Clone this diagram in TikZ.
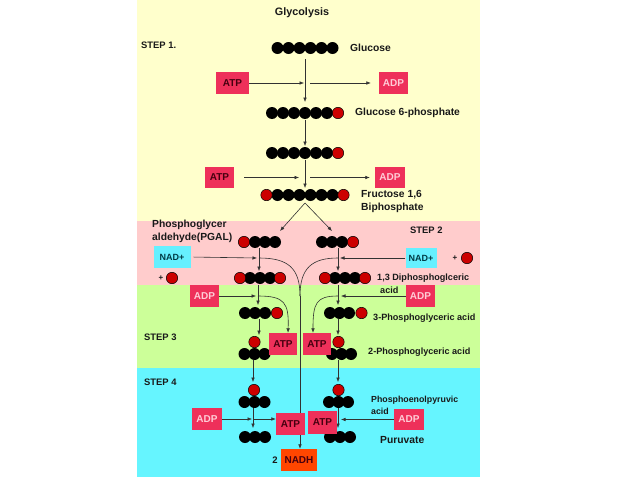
\documentclass[tikz,border=0pt]{standalone}
\usepackage{fontspec}
\setmainfont{Liberation Sans}
\usetikzlibrary{arrows.meta}
\definecolor{bgyellow}{RGB}{255,255,204}
\definecolor{bgpink}{RGB}{255,204,204}
\definecolor{bggreen}{RGB}{204,255,153}
\definecolor{bgcyan}{RGB}{102,245,255}
\definecolor{boxred}{RGB}{238,48,90}
\definecolor{atptxt}{RGB}{70,0,15}
\definecolor{adptxt}{RGB}{255,205,215}
\definecolor{nadcyan}{RGB}{102,240,255}
\definecolor{nadtxt}{RGB}{0,60,70}
\definecolor{nadhorange}{RGB}{255,70,0}
\definecolor{molred}{RGB}{204,0,0}
\definecolor{linec}{RGB}{50,50,50}
\definecolor{txt}{RGB}{25,25,25}
\pgfdeclarelayer{bg}\pgfdeclarelayer{fg}\pgfsetlayers{bg,main,fg}
\newcommand\mblk[2]{\fill[black] (#1,#2) circle[radius=6pt];}
\newcommand\mred[2]{\filldraw[fill=molred,draw=black,line width=0.5pt] (#1,#2) circle[radius=5.7pt];}
\tikzset{
  box/.style={draw=none,inner sep=0pt,minimum height=22pt,font=\fontsize{10}{11}\selectfont\bfseries},
  atpbox/.style={box,fill=boxred,text=atptxt},
  adpbox/.style={box,fill=boxred,text=adptxt},
  nadbox/.style={box,fill=nadcyan,text=nadtxt},
  nadhbox/.style={box,fill=nadhorange,text=atptxt},
  lbl/.style={anchor=west,inner sep=0pt,text=txt,font=\fontsize{10.3}{11}\selectfont\bfseries},
  slbl/.style={anchor=west,inner sep=0pt,text=txt,font=\fontsize{9.1}{10}\selectfont\bfseries},
  steplbl/.style={anchor=west,inner sep=0pt,text=txt,font=\fontsize{9.4}{10}\selectfont\bfseries},
  arr/.style={draw=linec,line width=0.6pt,-{Latex[length=4.5pt,width=3.6pt]}},
  ln/.style={draw=linec,line width=0.6pt},
}
\begin{document}
\begin{tikzpicture}[x=1pt,y=-1pt]
\begin{pgfonlayer}{bg}
\fill[white] (0,0) rectangle (638,479);
\fill[bgyellow] (137,0) rectangle (480,221);
\fill[bgpink] (137,221) rectangle (480,285);
\fill[bggreen] (137,285) rectangle (480,368);
\fill[bgcyan] (137,368) rectangle (480,477);
\end{pgfonlayer}
\useasboundingbox (0,0) rectangle (638,479);

\begin{pgfonlayer}{fg}
% boxes
\node[atpbox,minimum width=33pt] (atp1) at (232.5,83) {ATP};
\node[adpbox,minimum width=29pt] (adp1) at (393.5,83) {ADP};
\node[atpbox,minimum width=29pt,minimum height=21pt] (atp2) at (219.5,177.5) {ATP};
\node[adpbox,minimum width=30pt,minimum height=21pt] (adp2) at (390,177.5) {ADP};
\node[nadbox,minimum width=37pt,font=\fontsize{9}{10}\selectfont\bfseries] (nadl) at (172,257) {NAD+};
\node[nadbox,minimum width=31pt,minimum height=20pt,font=\fontsize{9}{10}\selectfont\bfseries] (nadr) at (421,258) {NAD+};
\node[adpbox,minimum width=29pt] (adp3l) at (204.5,296) {ADP};
\node[adpbox,minimum width=29pt] (adp3r) at (420.5,296) {ADP};
\node[atpbox,minimum width=28pt] (atp3l) at (283,344) {ATP};
\node[atpbox,minimum width=28pt] (atp3r) at (317,344) {ATP};
\node[adpbox,minimum width=30pt] (adp4l) at (207,419) {ADP};
\node[atpbox,minimum width=29pt] (atp4l) at (290.5,424) {ATP};
\node[atpbox,minimum width=29pt,minimum height=23pt] (atp4r) at (322.5,422.5) {ATP};
\node[adpbox,minimum width=30pt,minimum height=21pt] (adp4r) at (409,419.5) {ADP};
\node[nadhbox,minimum width=36pt] (nadh) at (299,460) {NADH};
% labels
\node[inner sep=0pt,text=txt,font=\fontsize{10.8}{12}\selectfont\bfseries] (title) at (302,13) {Glycolysis};
\node[steplbl] (st1) at (141,45) {STEP 1.};
\node[lbl] (lglu) at (350,48) {Glucose};
\node[lbl] (lg6p) at (355,113) {Glucose 6-phosphate};
\node[lbl] (lfru1) at (361,195) {Fructose 1,6};
\node[lbl] (lfru2) at (361,208) {Biphosphate};
\node[lbl] (lpg1) at (152,225) {Phosphoglycer};
\node[lbl] (lpg2) at (152,238) {aldehyde(PGAL)};
\node[steplbl] (st2) at (410,230) {STEP 2};
\node[slbl] (ldp1) at (377,278) {1,3 Diphosphoglceric};
\node[slbl] (ldp2) at (380,290) {acid};
\node[slbl] (l3pg) at (373,318) {3-Phosphoglyceric acid};
\node[steplbl] (st3) at (144,337) {STEP 3};
\node[slbl] (l2pg) at (368,352) {2-Phosphoglyceric acid};
\node[steplbl] (st4) at (144,382) {STEP 4};
\node[slbl,font=\fontsize{8.8}{10}\selectfont\bfseries] (lpep1) at (371,400) {Phosphoenolpyruvic};
\node[slbl,font=\fontsize{8.8}{10}\selectfont\bfseries] (lpep2) at (371,411) {acid};
\node[lbl] (lpyr) at (380,440) {Puruvate};
\node[inner sep=0pt,text=txt,font=\fontsize{9.5}{10}\selectfont\bfseries] (two) at (275,460) {2};
\node[inner sep=0pt,text=txt,font=\fontsize{8}{9}\selectfont\bfseries] (plusl) at (161,278) {+};
\node[inner sep=0pt,text=txt,font=\fontsize{8}{9}\selectfont\bfseries] (plusr) at (455,258) {+};
\end{pgfonlayer}

% ---------- connectors ----------
% step 1
\coordinate (g1) at (305,59); \coordinate (g2) at (305,102);
\draw[arr] (g1) -- (g2);
\coordinate (j1) at (304,83); \coordinate (j1b) at (310,83);
\draw[arr] (atp1.east) -- (j1);
\draw[arr] (j1b) -- ([xshift=-8pt]adp1.west);
\coordinate (g3) at (305,120); \coordinate (g4) at (305,146);
\draw[arr] (g3) -- (g4);
\coordinate (g5) at (305,160); \coordinate (g6) at (305,188);
\draw[arr] (g5) -- (g6);
\coordinate (j2) at (299,177.5); \coordinate (j2b) at (310,177.5);
\draw[arr,shorten <=10pt] (atp2.east) -- (j2);
\draw[arr] (j2b) -- ([xshift=-5pt]adp2.west);
\coordinate (s0) at (305,203); \coordinate (sl) at (280,231); \coordinate (sr) at (332,231);
\draw[arr] (s0) -- (sl);
\draw[arr] (s0) -- (sr);
% step 2
\coordinate (cl) at (259,258); \coordinate (cr) at (338,258); \coordinate (m) at (300,296);
\draw[arr,shorten <=3pt] (nadl.east) -- ([xshift=-2pt]cl);
\draw[arr] (nadr.west) -- ([xshift=2pt]cr);
\coordinate (v1a) at (259,248); \coordinate (v1b) at (259,271);
\draw[arr] (v1a) -- (v1b);
\coordinate (v2a) at (338,248); \coordinate (v2b) at (338,271);
\draw[arr] (v2a) -- (v2b);
\draw[ln] (cl) .. controls (288,258) and (300,268) .. (m);
\draw[ln] (cr) .. controls (312,258) and (300,268) .. (m);
\draw[ln] (m) -- (m |- atp4l.north);
\draw[arr] (atp4l.south -| m) -- (nadh.north -| m);
% step 3
\coordinate (k1) at (258,296); \coordinate (k2) at (338,296);
\draw[arr] (adp3l.east) -- ([xshift=-2pt]k1);
\draw[arr] (adp3r.west) -- ([xshift=3pt]k2);
\coordinate (v3a) at (258,285); \coordinate (v3b) at (258,305);
\draw[arr] (v3a) -- (v3b);
\coordinate (v4a) at (338,285); \coordinate (v4b) at (338,305);
\draw[arr] (v4a) -- (v4b);
\draw[arr] (k1) .. controls (285,296) and (289,303) .. ([xshift=5pt]atp3l.north);
\draw[arr] (k2) .. controls (316,296) and (313,303) .. ([xshift=-4pt]atp3r.north);
\coordinate (v5a) at (259,319); \coordinate (v5b) at (259,335);
\draw[arr] (v5a) -- (v5b);
\coordinate (v6a) at (338,319); \coordinate (v6b) at (338,335);
\draw[arr] (v6a) -- (v6b);
% step 4
\coordinate (v7a) at (253,360); \coordinate (v7b) at (253,382);
\draw[arr] (v7a) -- (v7b);
\coordinate (v8a) at (338,360); \coordinate (v8b) at (338,382);
\draw[arr] (v8a) -- (v8b);
\coordinate (v9a) at (253,408); \coordinate (v9b) at (253,428);
\draw[arr] (v9a) -- (v9b);
\coordinate (v10a) at (338,408); \coordinate (v10b) at (338,428);
\draw[arr] (v10a) -- (v10b);
\coordinate (j4) at (253,419);
\draw[arr] (adp4l.east |- j4) -- ([xshift=-1pt]j4);
\draw[arr] (j4) -- (atp4l.west |- j4);
\coordinate (j5) at (341,419.5);
\draw[arr] (adp4r.west) -- (j5);

% ---------- molecules ----------
% glucose
\foreach \x in {277.5,288.5,299.5,310.5,321.5,332.5} {\mblk{\x}{48}}
% glucose 6-phosphate
\foreach \x in {272,283,294,305,316,327} {\mblk{\x}{113}}
\mred{338}{113}
% fructose 6-phosphate
\foreach \x in {272,283,294,305,316,327} {\mblk{\x}{153}}
\mred{338}{153}
% fructose 1,6 biphosphate
\foreach \x in {277.5,288.5,299.5,310.5,321.5,332.5} {\mblk{\x}{195}}
\mred{266.5}{195} \mred{343.5}{195}
% step 2 top
\foreach \x in {255,265,275} {\mblk{\x}{242}}
\mred{244}{242}
\foreach \x in {322,332,342} {\mblk{\x}{242}}
\mred{353}{242}
% step 2 bottom
\foreach \x in {250,260,270} {\mblk{\x}{278}}
\mred{240}{278} \mred{280}{278}
\foreach \x in {335,345,355} {\mblk{\x}{278}}
\mred{325}{278} \mred{365}{278}
% plus phosphates
\mred{172}{278} \mred{467}{258}
% 3-phosphoglyceric
\foreach \x in {245,255,265} {\mblk{\x}{313}}
\mred{277}{313}
\foreach \x in {330,339.5,349} {\mblk{\x}{313}}
\mred{361.5}{313}
% 2-phosphoglyceric
\foreach \x in {244.5,254.5,264.5} {\mblk{\x}{354}}
\mred{254.5}{342}
\foreach \x in {332,341.5,351} {\mblk{\x}{354}}
\mred{338.5}{342}
% phosphoenolpyruvic
\foreach \x in {244.5,254.5,264.5} {\mblk{\x}{402}}
\mred{254}{390}
\foreach \x in {329,338.5,348} {\mblk{\x}{402}}
\mred{338.5}{390}
% pyruvate
\foreach \x in {245,255,265} {\mblk{\x}{437}}
\foreach \x in {330,340,350} {\mblk{\x}{437}}
\end{tikzpicture}
\end{document}
